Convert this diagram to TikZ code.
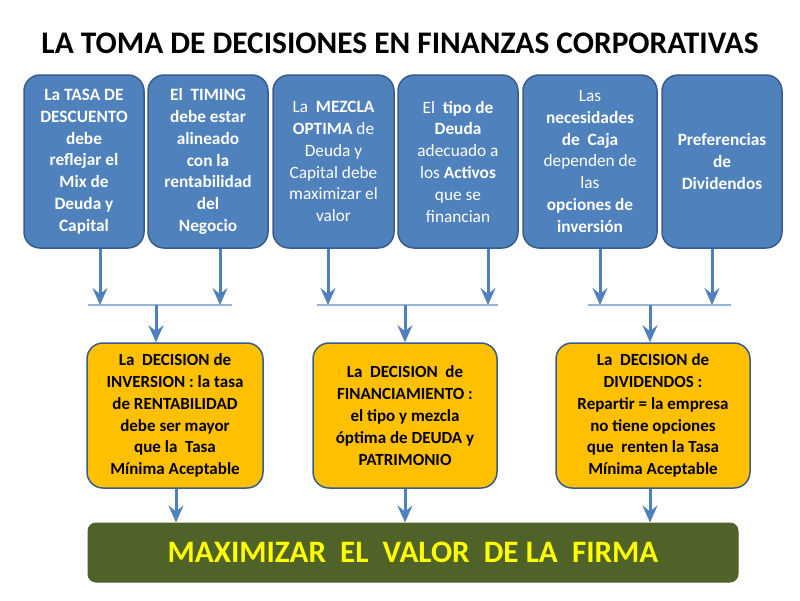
\documentclass[tikz,border=0pt]{standalone}
\usepackage{fontspec}
\setmainfont{Carlito}
\usetikzlibrary{arrows.meta}
\definecolor{boxblue}{HTML}{4F81BD}
\definecolor{boxedge}{HTML}{385D8A}
\definecolor{orng}{HTML}{FFC000}
\definecolor{grn}{HTML}{4F6228}
\definecolor{linelight}{HTML}{95B3D7}
\definecolor{ytext}{HTML}{FFFF00}
\begin{document}
\begin{tikzpicture}[x=1pt,y=-1pt,
  topbox/.style={draw=boxedge, line width=1.5pt, fill=boxblue, rounded corners=16pt,
    minimum height=173pt, text=white, align=center, inner sep=0pt,
    font=\fontsize{17.3}{21.8}\selectfont},
  decbox/.style={draw=boxedge, line width=1.5pt, fill=orng, rounded corners=16pt,
    minimum height=145pt, text=black, align=center, inner sep=0pt,
    font=\bfseries\fontsize{17}{21.8}\selectfont},
  goalbox/.style={draw=grn, line width=1pt, fill=grn, rounded corners=8pt,
    minimum width=650pt, minimum height=59pt, text=ytext, inner sep=0pt,
    font=\bfseries\fontsize{31.2}{36}\selectfont},
  arr/.style={draw=boxblue, line width=3pt, -{Stealth[length=17pt,width=15pt,inset=6pt]}},
  joinline/.style={draw=linelight, line width=2pt}
]
\useasboundingbox (0,0) rectangle (800,600);

\node[font=\bfseries\fontsize{31.4}{36}\selectfont] (title) at (400,43)
  {LA TOMA DE DECISIONES EN FINANZAS CORPORATIVAS};

% top boxes
\node[topbox, minimum width=120pt] (b1) at (84,161.5)
  {\bfseries La TASA DE\\ \bfseries DESCUENTO\\ \bfseries debe\\ \bfseries reflejar el\\ \bfseries Mix de\\ \bfseries Deuda y\\ \bfseries Capital};
\node[topbox, minimum width=120pt] (b2) at (208,161.5)
  {\bfseries El\ \ TIMING\\ \bfseries debe estar\\ \bfseries alineado\\ \bfseries con la\\ \bfseries rentabilidad\\ \bfseries del\\ \bfseries Negocio};
\node[topbox, minimum width=121pt] (b3) at (333.5,161.5)
  {La\ \ \textbf{MEZCLA}\\ \textbf{OPTIMA} de\\ Deuda y\\ Capital debe\\ maximizar el\\ valor};
\node[topbox, minimum width=120pt] (b4) at (458,161.5)
  {El\ \ \textbf{tipo de}\\ \textbf{Deuda}\\ adecuado a\\ los \textbf{Activos}\\ que se\\ financian};
\node[topbox, minimum width=134pt] (b5) at (590,161.5)
  {Las\\ \textbf{necesidades}\\ \textbf{de\ \ Caja}\\ dependen de\\ las\\ \textbf{opciones de}\\ \textbf{inversión}};
\node[topbox, minimum width=120pt] (b6) at (722,161.5)
  {\bfseries Preferencias\\ \bfseries de\\ \bfseries Dividendos};

% join lines
\coordinate (g1l) at (88,305);  \coordinate (g1r) at (232,305);
\coordinate (g2l) at (317,305); \coordinate (g2r) at (498,305);
\coordinate (g3l) at (588,305); \coordinate (g3r) at (731,305);
\draw[joinline] (g1l) -- (g1r);
\draw[joinline] (g2l) -- (g2r);
\draw[joinline] (g3l) -- (g3r);

% arrows from top boxes
\coordinate (a1) at ([xshift=16pt]b1.south);
\coordinate (a2) at ([xshift=12pt]b2.south);
\coordinate (a3) at ([xshift=-5.5pt]b3.south);
\coordinate (a4) at ([xshift=30pt]b4.south);
\coordinate (a5) at ([xshift=10pt]b5.south);
\coordinate (a6) at ([xshift=-10pt]b6.south);
\draw[arr] (a1) -- (a1 |- g1l);
\draw[arr] (a2) -- (a2 |- g1l);
\draw[arr] (a3) -- (a3 |- g2l);
\draw[arr] (a4) -- (a4 |- g2l);
\draw[arr] (a5) -- (a5 |- g3l);
\draw[arr] (a6) -- (a6 |- g3l);

% decision boxes
\node[decbox, minimum width=176pt] (o1) at (175,415.5)
  {La\ \ DECISION de\\ INVERSION : la tasa\\ de RENTABILIDAD\\ debe ser mayor\\ que la\ \ Tasa\\ Mínima Aceptable};
\node[decbox, minimum width=184pt] (o2) at (405,415.5)
  {La\ \ DECISION\ \ de\\ FINANCIAMIENTO :\\ el tipo y mezcla\\ óptima de DEUDA y\\ PATRIMONIO};
\node[decbox, minimum width=194pt] (o3) at (653,415.5)
  {La\ \ DECISION de\\ DIVIDENDOS :\\ Repartir = la empresa\\ no tiene opciones\\ que\ \ renten la Tasa\\ Mínima Aceptable};

\coordinate (m1) at (156,305);
\coordinate (m2) at (405,305);
\coordinate (m3) at (650,305);
\draw[arr] (m1) -- (m1 |- o1.north);
\draw[arr] (m2) -- (m2 |- o2.north);
\draw[arr] (m3) -- (m3 |- o3.north);

% goal
\node[goalbox] (goal) at (413,552.5) {MAXIMIZAR\ \ EL\ \ VALOR\ \ DE LA\ \ FIRMA};

\coordinate (d1) at ([xshift=1pt]o1.south);
\coordinate (d2) at (o2.south);
\coordinate (d3) at ([xshift=-3pt]o3.south);
\draw[arr] (d1) -- (d1 |- goal.north);
\draw[arr] (d2) -- (d2 |- goal.north);
\draw[arr] (d3) -- (d3 |- goal.north);
\end{tikzpicture}
\end{document}
